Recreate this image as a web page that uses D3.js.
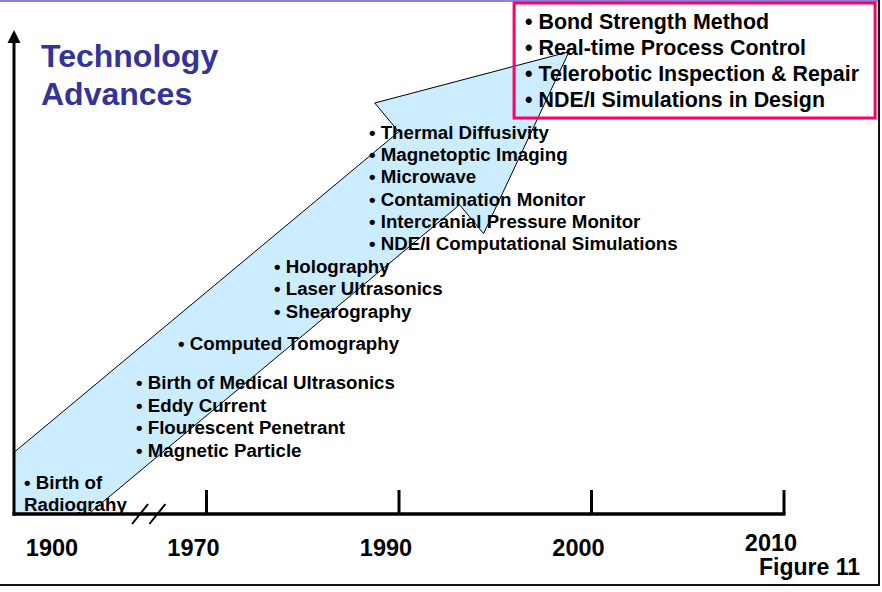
<!DOCTYPE html>
<html>
<head>
<meta charset="utf-8">
<script src="https://cdn.jsdelivr.net/npm/d3@7"></script>
<style>
  html, body { margin: 0; padding: 0; background: #fff; }
  svg { display: block; font-family: Arial, "Liberation Sans", Helvetica, sans-serif; font-weight: bold; }
</style>
</head>
<body>
<div id="chart"></div>
<script>
// ── Data ──────────────────────────────────────────────────────────────────────
const years = ['1900', '1970', '1990', '2000', '2010'];
const titleLines = ['Technology', 'Advances'];
const radiography = ['• Birth of', 'Radiograhy'];
const methods1970s = [
  '• Birth of Medical Ultrasonics',
  '• Eddy Current',
  '• Flourescent Penetrant',
  '• Magnetic Particle',
];
const methods1980s = ['• Computed Tomography'];
const methodsLate80s = ['• Holography', '• Laser Ultrasonics', '• Shearography'];
const methods1990s = [
  '• Thermal Diffusivity',
  '• Magnetoptic Imaging',
  '• Microwave',
  '• Contamination Monitor',
  '• Intercranial Pressure Monitor',
  '• NDE/I Computational Simulations',
];
const futureMethods = [
  '• Bond Strength Method',
  '• Real-time Process Control',
  '• Telerobotic Inspection & Repair',
  '• NDE/I Simulations in Design',
];
// trend arrow, as [timeline position, advance level]
const trendTail = [-0.4, -13.3];
const trendTip = [2.883, 95.5];
const axisBreakAt = 0.70; // gap between 1900 and 1970

// ── Layout ────────────────────────────────────────────────────────────────────
const W = 882, H = 592;
const x = d3.scaleLinear().domain([0, years.length - 1]).range([14, 784]);
const y = d3.scaleLinear().domain([0, 100]).range([514, 30]);

const svg = d3.select('#chart').append('svg')
  .attr('width', W).attr('height', H)
  .attr('viewBox', `0 0 ${W} ${H}`);

// frame lines
svg.append('line').attr('x1', 0).attr('x2', 880).attr('y1', 1).attr('y2', 1)
  .attr('stroke', '#8585e0').attr('stroke-width', 2);
svg.append('line').attr('x1', 0).attr('x2', 880).attr('y1', 585).attr('y2', 585)
  .attr('stroke', '#111').attr('stroke-width', 2);
svg.append('line').attr('x1', 879).attr('x2', 879).attr('y1', 0).attr('y2', 586)
  .attr('stroke', '#111').attr('stroke-width', 2);

// ── Trend arrow (clipped by the axes) ─────────────────────────────────────────
svg.append('clipPath').attr('id', 'plot-clip')
  .append('rect')
  .attr('x', x(0)).attr('y', 0)
  .attr('width', W - x(0)).attr('height', y(0));

function blockArrow(p0, p1, shaftHalf, headHalf, headLen) {
  const dx = p1[0] - p0[0], dy = p1[1] - p0[1];
  const len = Math.hypot(dx, dy);
  const ux = dx / len, uy = dy / len, nx = -uy, ny = ux;
  const bx = p1[0] - ux * headLen, by = p1[1] - uy * headLen;
  const off = (px, py, k) => [px + nx * k, py + ny * k];
  return [
    off(p0[0], p0[1], -shaftHalf),
    off(bx, by, -shaftHalf),
    off(bx, by, -headHalf),
    p1,
    off(bx, by, headHalf),
    off(bx, by, shaftHalf),
    off(p0[0], p0[1], shaftHalf),
  ];
}

const arrowPts = blockArrow(
  [x(trendTail[0]), y(trendTail[1])],
  [x(trendTip[0]), y(trendTip[1])],
  47.5, 85, 182,
);

svg.append('path')
  .attr('clip-path', 'url(#plot-clip)')
  .attr('d', d3.line()(arrowPts) + 'Z')
  .attr('fill', '#ccecff')
  .attr('stroke', '#000')
  .attr('stroke-width', 1);

// ── Axes ──────────────────────────────────────────────────────────────────────
// vertical "advances" axis with arrow head
svg.append('line')
  .attr('x1', x(0)).attr('x2', x(0))
  .attr('y1', y(0) + 1.5).attr('y2', y(100) + 10)
  .attr('stroke', '#000').attr('stroke-width', 3);
svg.append('path')
  .attr('d', d3.line()([[x(0), y(100)], [x(0) - 6.5, y(100) + 13], [x(0) + 6.5, y(100) + 13]]) + 'Z')
  .attr('fill', '#000');

// horizontal timeline
svg.append('line')
  .attr('x1', x(0) - 1.5).attr('x2', x(years.length - 1) + 1.5)
  .attr('y1', y(0)).attr('y2', y(0))
  .attr('stroke', '#000').attr('stroke-width', 3.5);

svg.selectAll('.tick-mark')
  .data(years.slice(1))
  .join('line')
  .attr('class', 'tick-mark')
  .attr('x1', (d) => x(years.indexOf(d)))
  .attr('x2', (d) => x(years.indexOf(d)))
  .attr('y1', y(0)).attr('y2', y(0) - 24)
  .attr('stroke', '#000').attr('stroke-width', 3);

// axis break "//"
svg.selectAll('.axis-break')
  .data([-0.045, 0.045])
  .join('line')
  .attr('class', 'axis-break')
  .attr('x1', (d) => x(axisBreakAt + d) - 8)
  .attr('x2', (d) => x(axisBreakAt + d) + 8)
  .attr('y1', y(0) + 10).attr('y2', y(0) - 10)
  .attr('stroke', '#000').attr('stroke-width', 2);

svg.selectAll('.year-label')
  .data(years)
  .join('text')
  .attr('class', 'year-label')
  .attr('x', (d, i) => (i === 0 ? x(i) + 38 : x(i) - 13))
  .attr('y', (d, i) => (i === years.length - 1 ? 551 : 556))
  .attr('text-anchor', 'middle')
  .attr('font-size', 23.5)
  .attr('fill', '#000')
  .text((d) => d);

svg.append('text')
  .attr('x', 860).attr('y', 575)
  .attr('text-anchor', 'end')
  .attr('font-size', 23)
  .text('Figure 11');

// ── Title ─────────────────────────────────────────────────────────────────────
svg.selectAll('.title')
  .data(titleLines)
  .join('text')
  .attr('class', 'title')
  .attr('x', 41)
  .attr('y', (d, i) => 67 + i * 38)
  .attr('font-size', 32)
  .attr('fill', '#333399')
  .text((d) => d);

// ── Method lists, anchored on the timeline / advance scales ───────────────────
const groups = [
  { lines: radiography,    t: 0.052, level: 5.2,   size: 18.7, lh: 22 },
  { lines: methods1970s,   t: 0.634, level: 25.8,  size: 18.7, lh: 22.5 },
  { lines: methods1980s,   t: 0.852, level: 33.9,  size: 18.7, lh: 22 },
  { lines: methodsLate80s, t: 1.351, level: 49.8,  size: 18.7, lh: 22.5 },
  { lines: methods1990s,   t: 1.844, level: 77.5,  size: 18.7, lh: 22.2 },
  { lines: futureMethods,  t: 2.655, level: 100.2, size: 21.4, lh: 26 },
];

groups.forEach((grp) => {
  svg.append('g')
    .selectAll('text')
    .data(grp.lines)
    .join('text')
    .attr('x', x(grp.t))
    .attr('y', (d, i) => y(grp.level) + i * grp.lh)
    .attr('font-size', grp.size)
    .attr('fill', '#000')
    .text((d) => d);
});

// outlined box round the future methods
const future = groups[groups.length - 1];
svg.append('rect')
  .attr('x', x(future.t) - 11)
  .attr('y', 3)
  .attr('width', 361)
  .attr('height', 115)
  .attr('fill', 'none')
  .attr('stroke', '#ff0066')
  .attr('stroke-width', 3);
</script>
</body>
</html>
